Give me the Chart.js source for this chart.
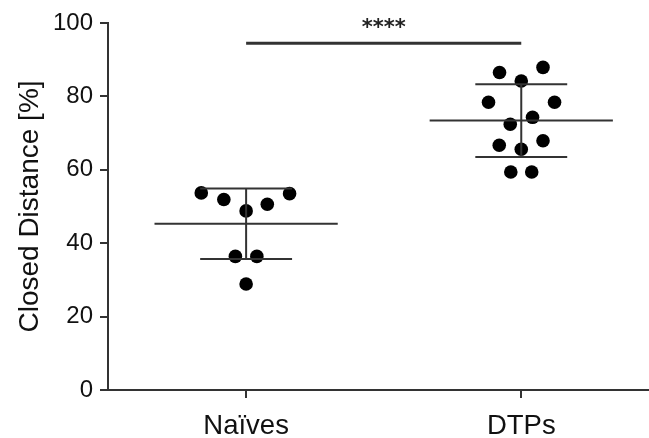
<!DOCTYPE html>
<html>
<head>
<meta charset="utf-8">
<script src="https://cdn.jsdelivr.net/npm/chart.js@4"></script>
<style>
  html, body { margin: 0; padding: 0; background: #fff; overflow: hidden; }
  #wrap { width: 656px; height: 438px; }
</style>
</head>
<body>
<div id="wrap"><canvas id="dotPlot"></canvas></div>
<script>
// categories + per-animal values
const categories = ["Naïves", "DTPs"];
const naiveValues = [53.7, 51.9, 53.5, 48.8, 50.6, 36.4, 36.4, 28.9];
const naiveJitter = [-0.163, -0.081, 0.158, 0, 0.077, -0.039, 0.039, 0];
const dtpValues = [86.5, 87.9, 84.2, 78.4, 78.4, 74.3, 72.4, 66.7, 67.9, 65.6, 59.4, 59.4];
const dtpJitter = [-0.079, 0.079, 0, -0.119, 0.121, 0.041, -0.04, -0.08, 0.079, 0, -0.038, 0.038];
// mean and SD per group
const means = [45.3, 73.4];
const sds = [9.6, 9.9];
// significance bracket
const sigLevel = 94.5;
const sigLabel = "****";
const yTicks = [0, 20, 40, 60, 80, 100];

const lineColor = "#333333";
const meanHalf = 0.333; // half width of mean line (category units)
const capHalf = 0.167;  // half width of SD caps

const groups = [
    { values: naiveValues, jitter: naiveJitter },
    { values: dtpValues, jitter: dtpJitter }
];

const pointData = [];
groups.forEach((g, i) => {
    g.values.forEach((v, k) => pointData.push({ x: i + g.jitter[k], y: v }));
});

// mean lines + sd bars as line segments (NaN breaks the line)
const statData = [];
means.forEach((m, i) => {
    statData.push({ x: i - meanHalf, y: m }, { x: i + meanHalf, y: m }, { x: NaN, y: NaN });
    statData.push({ x: i - capHalf, y: m + sds[i] }, { x: i + capHalf, y: m + sds[i] }, { x: NaN, y: NaN });
    statData.push({ x: i - capHalf, y: m - sds[i] }, { x: i + capHalf, y: m - sds[i] }, { x: NaN, y: NaN });
    statData.push({ x: i, y: m + sds[i] }, { x: i, y: m - sds[i] }, { x: NaN, y: NaN });
});

const sigStars = {
    id: "sigStars",
    afterDatasetsDraw(chart) {
        const ctx = chart.ctx;
        const xs = chart.scales.x, ys = chart.scales.y;
        ctx.save();
        ctx.fillStyle = "#222";
        ctx.font = "bold 21px 'DejaVu Sans'";
        ctx.textAlign = "center";
        ctx.textBaseline = "alphabetic";
        ctx.fillText(sigLabel, xs.getPixelForValue(0.5), ys.getPixelForValue(sigLevel) - 9);
        ctx.restore();
    }
};

const axisGrid = { display: true, drawOnChartArea: false, drawTicks: true, tickLength: 8, color: lineColor, lineWidth: 2 };

new Chart(document.getElementById("dotPlot"), {
    type: "scatter",
    data: {
        datasets: [
            {
                label: "stats",
                data: statData,
                showLine: true,
                spanGaps: false,
                borderColor: lineColor,
                borderWidth: 2,
                pointRadius: 0,
                clip: false
            },
            {
                label: "sig",
                data: [{ x: 0, y: sigLevel }, { x: 1, y: sigLevel }],
                showLine: true,
                borderColor: lineColor,
                borderWidth: 3,
                pointRadius: 0,
                clip: false
            },
            {
                label: "animals",
                data: pointData,
                pointRadius: 6.8,
                pointBackgroundColor: "#000",
                pointBorderWidth: 0,
                clip: false
            }
        ]
    },
    plugins: [sigStars],
    options: {
        responsive: true,
        maintainAspectRatio: false,
        animation: false,
        layout: { padding: { top: 23, right: 0, left: 0, bottom: 0 } },
        plugins: { legend: { display: false }, tooltip: { enabled: false } },
        scales: {
            x: {
                type: "linear",
                min: -0.502,
                max: 1.465,
                afterBuildTicks: (s) => { s.ticks = categories.map((c, i) => ({ value: i })); },
                afterFit: (s) => { s.height = 48; },
                ticks: {
                    callback: (v) => categories[v],
                    color: "#111",
                    font: { family: "'Liberation Sans'", size: 27.5 },
                    padding: 12,
                    maxRotation: 0,
                    autoSkip: false
                },
                grid: axisGrid,
                border: { display: true, color: lineColor, width: 2 }
            },
            y: {
                min: 0,
                max: 100,
                afterBuildTicks: (s) => { s.ticks = yTicks.map(v => ({ value: v })); },
                afterFit: (s) => { s.width = 108; },
                ticks: {
                    color: "#111",
                    font: { family: "'Liberation Sans'", size: 24 },
                    padding: 7
                },
                title: {
                    display: true,
                    text: "Closed Distance [%]",
                    color: "#111",
                    font: { family: "'Liberation Sans'", size: 28 },
                    padding: { top: 13, bottom: 0 }
                },
                grid: axisGrid,
                border: { display: true, color: lineColor, width: 2 }
            }
        }
    }
});
</script>
</body>
</html>
